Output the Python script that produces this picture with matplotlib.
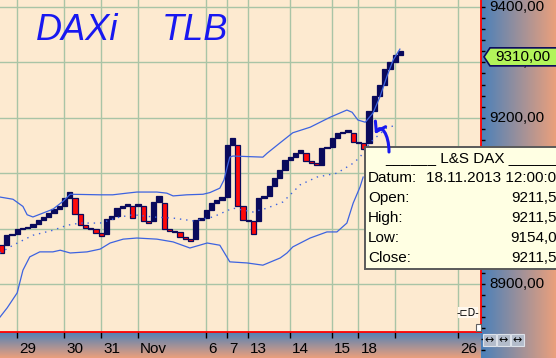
import numpy as np
import matplotlib.pyplot as plt
import matplotlib.transforms as mtransforms
from matplotlib.colors import LinearSegmentedColormap
from matplotlib.patches import Rectangle, Polygon, FancyArrowPatch
from matplotlib.path import Path
from matplotlib.ticker import MultipleLocator

# three line break bricks, oldest first (open -> close)
opens = [8970, 8970, 8988, 8990, 8999, 9001, 9003, 9008, 9015, 9021,
         9028, 9035, 9041, 9055, 9055, 9026, 9007, 9001, 8999, 8992,
         8990, 9017, 9023, 9037, 9041, 9041, 9041, 9041, 9014, 9014,
         9048, 9046, 9000, 8996, 8994, 8985, 8982, 8982, 9016, 9019,
         9034, 9046, 9052, 9057, 9151, 9151, 9041, 9016, 9013, 9013,
         9055, 9058, 9077, 9091, 9106, 9124, 9129, 9136, 9136, 9122,
         9118, 9115, 9145, 9147, 9163, 9173, 9175, 9173, 9156, 9154,
         9154, 9211.5, 9239, 9259, 9288, 9301, 9313]
closes = [8956, 8988, 8990, 8999, 9001, 9003, 9008, 9015, 9021, 9028,
          9035, 9041, 9055, 9066, 9026, 9007, 9001, 8999, 8992, 8987,
          9017, 9023, 9037, 9041, 9044, 9019, 9045, 9014, 9010, 9048,
          9059, 9000, 8996, 8994, 8985, 8982, 8978, 9016, 9019, 9034,
          9046, 9052, 9057, 9151, 9163, 9041, 9016, 9013, 8990, 9055,
          9058, 9077, 9091, 9106, 9124, 9129, 9136, 9142, 9122, 9118,
          9115, 9145, 9147, 9163, 9173, 9175, 9178, 9156, 9154, 9144,
          9211.5, 9239, 9259, 9288, 9301, 9313, 9321]

# bollinger bands, read at brick positions
upper_x = [0.2, 2.7, 4.6, 5.4, 6.5, 8.4, 10.3, 12.2, 13.6, 19.3, 21.7, 24.4,
           26.3, 30.1, 32.0, 33.2, 35.8, 38.9, 40.2, 42.1, 42.9, 43.5, 44.0,
           44.6, 50.3, 51.1, 53.6, 56.0, 59.3, 63.1, 66.3, 67.3, 68.4, 69.8,
           71.3, 72.6, 73.9, 75.1, 76.4]
upper = [9057, 9053, 9040, 9025, 9021, 9028, 9035, 9049, 9062, 9061, 9061, 9064,
         9066, 9066, 9064, 9059, 9061, 9062, 9065, 9073, 9088, 9111, 9129,
         9131, 9129, 9136, 9155, 9173, 9183, 9201, 9214, 9210, 9196, 9192,
         9209, 9238, 9274, 9304, 9324]
mid_x = [0.2, 2.7, 6.5, 10.3, 13.0, 15.5, 19.3, 23.1, 25.6, 29.4, 33.2, 37.0,
         40.8, 44.6, 48.4, 51.1, 54.1, 55.5, 57.4, 60.6, 64.4, 67.5, 68.8,
         70.7, 73.9, 75.8]
mid = [8956, 8970, 8988, 8997, 9006, 9010, 9010, 9021, 9025, 9021, 9019, 9014,
       9021, 9037, 9030, 9037, 9048, 9061, 9079, 9093, 9100, 9118, 9129,
       9155, 9182, 9187]
lower_x = [0.2, 1.6, 3.5, 4.6, 5.9, 7.8, 10.3, 11.7, 13.6, 16.8, 19.3, 21.2,
           23.7, 26.3, 30.1, 33.2, 36.4, 39.7, 42.1, 44.0, 47.3, 50.3, 53.6,
           54.9, 56.0, 59.3, 62.5, 64.4, 66.3, 67.5, 68.8, 69.4]
lower = [8840, 8857, 8884, 8925, 8949, 8958, 8958, 8961, 8956, 8958, 8963, 8974,
         8981, 8983, 8981, 8976, 8965, 8974, 8970, 8940, 8938, 8934, 8947,
         8956, 8967, 8983, 8994, 8994, 9010, 9046, 9075, 9093]

date_pos = [3, 12, 19, 26, 39, 43, 47, 55, 63, 68, 75, 87]
date_labels = ["29", "30", "31", "Nov", "6", "7", "13", "14", "15", "18", "", "26"]
price_ticks = [8900, 9000, 9100, 9200, 9300, 9400]
last_price = 9310

tip_title = "______ L&S DAX ______"
tip_names = ["Datum:", "Open:", "High:", "Low:", "Close:"]
tip_values = ["18.11.2013 12:00:00", "9211,50", "9211,50", "9154,00", "9211,50"]

W, H = 556, 358
NAVY = "#0a0a5c"
BLUE = "#3d63e0"
PEN = "#1818f0"
FONT = "Liberation Sans"


def px_price(y):
    # pixel row -> price (9400 sits at row 7, 1.805 points per pixel)
    return 9400 - (y - 7) * 1.805


def fx(x):
    return x / W


def fy(y):
    return 1 - y / H


fig = plt.figure(figsize=(W / 100, H / 100), dpi=100)
panel = LinearSegmentedColormap.from_list("panel", ["#4a80ba", "#eba07c"])
grad = np.linspace(0, 1, 256)

# right price panel
ax_r = fig.add_axes([fx(481), 0, fx(556) - fx(481), 1])
ax_r.imshow(grad[None, :], aspect="auto", cmap=panel,
            extent=[0, 1, px_price(358), px_price(0)])
ax_r.set_xlim(0, 1)
ax_r.set_ylim(px_price(358), px_price(0))
ax_r.yaxis.set_major_locator(MultipleLocator(100))
ax_r.yaxis.set_minor_locator(MultipleLocator(20))
ax_r.tick_params(axis="y", which="both", direction="in", length=3, width=1,
                 color="black", left=True, labelleft=False)
ax_r.tick_params(axis="x", bottom=False, labelbottom=False)
for s in ax_r.spines.values():
    s.set_visible(False)
tr = mtransforms.blended_transform_factory(ax_r.transAxes, ax_r.transData)
for v in price_ticks:
    ax_r.text(0.105, v, f"{v:.2f}".replace(".", ","), transform=tr,
              ha="left", va="center", fontsize=11, family=FONT)

# bottom date panel
ax_b = fig.add_axes([0, 0, fx(481), 26 / H])
ax_b.imshow(grad[:, None], aspect="auto", cmap=panel, extent=[0, 1, 0, 1])
ax_b.set_axis_off()

# main chart
ax = fig.add_axes([0, 26 / H, fx(481), 332 / H], zorder=2)
ax.set_facecolor("#fdead0")
x = np.arange(len(opens))
o = np.array(opens)
c = np.array(closes)
colors = np.where(c >= o, NAVY, "#ff0a0a")
ax.bar(x, c - o, bottom=o, width=1, align="edge", color=colors,
       edgecolor=NAVY, linewidth=0.9, zorder=3)

ax.plot(upper_x, upper, color=BLUE, lw=0.9, zorder=4)
ax.plot(mid_x, mid, color=BLUE, lw=1.0, ls=(0, (1, 3.5)), zorder=4)
ax.plot(lower_x, lower, color=BLUE, lw=0.9, zorder=4)

ax.set_xlim(1.2 / 5.25, 482.2 / 5.25)
ax.set_ylim(px_price(332), px_price(0))
ax.yaxis.set_major_locator(MultipleLocator(100))
ax.tick_params(axis="y", left=False, labelleft=False)
ax.set_xticks(np.array(date_pos) + 0.5)
ax.set_xticklabels(date_labels, fontsize=11, family=FONT)
ax.tick_params(axis="x", direction="out", length=4, width=1, pad=3, color="black")
shift = mtransforms.ScaledTranslation(0.02, 0, fig.dpi_scale_trans)
for lab in ax.get_xticklabels():
    lab.set_ha("left")
    lab.set_transform(lab.get_transform() + shift)
ax.grid(True, color="#a9c4a6", lw=1.0, zorder=1)
ax.set_axisbelow(True)
ax.spines["top"].set_visible(False)
ax.spines["left"].set_visible(False)
ax.spines["right"].set_color("#ff0000")
ax.spines["bottom"].set_color("#ff0000")
ax.spines["right"].set_linewidth(1.3)
ax.spines["bottom"].set_linewidth(1.3)

# handwritten notes
fig.text(fx(36), fy(31), "DAXi", color=PEN, fontsize=26, style="italic",
         va="center", family=FONT)
fig.text(fx(162), fy(31), "TLB", color=PEN, fontsize=26, style="italic",
         va="center", family=FONT)
hook_path = Path([(389, H - 152), (389, H - 134), (381, H - 123), (375, H - 134)],
                 [Path.MOVETO, Path.CURVE4, Path.CURVE4, Path.CURVE4])
hook = FancyArrowPatch(path=hook_path,
                       arrowstyle="->,head_length=0.45,head_width=0.3",
                       mutation_scale=14, color=PEN, lw=2.2,
                       transform=mtransforms.IdentityTransform(), zorder=12)
fig.add_artist(hook)

# last price marker
yp = ax_r.transData.transform((0, last_price))[1]
marker = Polygon([(484, yp), (490, yp + 9), (560, yp + 9), (560, yp - 9), (490, yp - 9)],
                 closed=True, facecolor="#b2f45a", edgecolor=NAVY, lw=1.2,
                 transform=mtransforms.IdentityTransform(), zorder=10)
fig.add_artist(marker)
fig.text(fx(495), yp / H, f"{last_price:.2f}".replace(".", ","), fontsize=11,
         family=FONT, va="center", ha="left", zorder=11)

# tooltip
fig.add_artist(Rectangle((fx(365), fy(269)), fx(200), 122 / H, transform=fig.transFigure,
                         facecolor="#ffffe3", edgecolor="#5a5a5a", lw=1.4, zorder=10))
fig.text(fx(385), fy(158), tip_title, fontsize=11, family=FONT, va="center", zorder=11)
for i, (name, val) in enumerate(zip(tip_names, tip_values)):
    yy = fy(178 + 20 * i)
    fig.text(fx(368), yy, name, fontsize=11, family=FONT, va="center", zorder=11)
    if i == 0:
        fig.text(fx(426), yy, val, fontsize=11, family=FONT, va="center", zorder=11)
    else:
        fig.text(fx(565), yy, val, fontsize=11, family=FONT, va="center",
                 ha="right", zorder=11)

# small chart controls
fig.add_artist(Rectangle((fx(458), fy(318)), fx(20), 11 / H, transform=fig.transFigure,
                         facecolor="#fff8ee", edgecolor="none", zorder=10))
fig.text(fx(468), fy(313), "-\u228fD-", fontsize=7, ha="center", va="center", zorder=11)
fig.add_artist(Rectangle((fx(476), fy(331)), fx(5), 7 / H, transform=fig.transFigure,
                         facecolor="white", edgecolor="#606060", lw=0.8, zorder=10))
for bx in [483, 497, 511]:
    fig.add_artist(Rectangle((fx(bx), fy(346)), fx(13), 12 / H, transform=fig.transFigure,
                             facecolor="#b3bccb", edgecolor="#dde2ea", lw=0.8, zorder=10))
    fig.text(fx(bx + 6.5), fy(340), "\u2194", fontsize=8, ha="center", va="center", zorder=11)

fig.savefig("out.png", dpi=100)
